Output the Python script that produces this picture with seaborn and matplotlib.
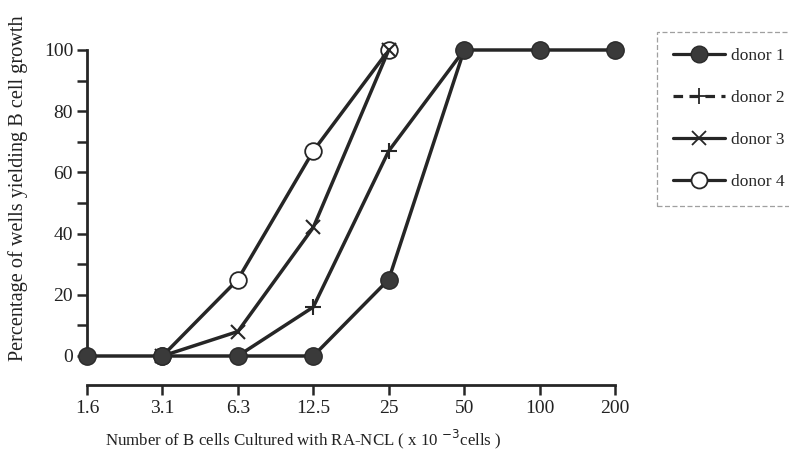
import numpy as np
import pandas as pd
import matplotlib
matplotlib.use("Agg")
import matplotlib.pyplot as plt
import seaborn as sns
from matplotlib.lines import Line2D

sns.set_style("ticks")
plt.rcParams['font.family'] = ['Liberation Serif', 'DejaVu Serif']

# data
cells = ["1.6", "3.1", "6.3", "12.5", "25", "50", "100", "200"]
donor1 = [0, 0, 0, 0, 25, 100, 100, 100]
donor2 = [np.nan, np.nan, 0, 16, 67, 100, np.nan, np.nan]
donor3 = [np.nan, 0, 8, 42, 100, np.nan, np.nan, np.nan]
donor4 = [np.nan, 0, 25, 67, 100, np.nan, np.nan, np.nan]

ink = "#262626"
pos = np.arange(len(cells))

fig = plt.figure(figsize=(7.89, 4.58), dpi=100)
ax = fig.add_axes([87/789, 1 - 356/458, (615 - 87)/789, (356 - 50)/458])

# draw order: donor 4 first so the x of donor 3 sits on the open circle, donor 1 on top
styles = [
    ("donor 4", donor4, dict(marker="o", markerfacecolor="white", markeredgecolor=ink,
                             markeredgewidth=1.3, markersize=12)),
    ("donor 3", donor3, dict(marker="x", markeredgecolor=ink, markeredgewidth=1.5, markersize=10.5)),
    ("donor 2", donor2, dict(marker="+", markeredgecolor=ink, markeredgewidth=1.5, markersize=12)),
    ("donor 1", donor1, dict(marker="o", markerfacecolor="#3a3a3a", markeredgecolor="#2a2a2a",
                             markeredgewidth=1.0, markersize=12.5)),
]
for i, (name, vals, mk) in enumerate(styles):
    d = pd.DataFrame({"x": pos, "y": vals}).dropna()
    sns.lineplot(data=d, x="x", y="y", ax=ax, color=ink, linewidth=2.5,
                 clip_on=False, zorder=3 + i, **mk)

ax.set_xlim(0, 7)
ax.set_ylim(0, 100)
ax.set_xticks(pos)
ax.set_xticklabels(cells)
ax.set_yticks([0, 20, 40, 60, 80, 100])
ax.set_yticks([10, 30, 50, 70, 90], minor=True)
ax.tick_params(axis="both", which="both", direction="out", length=7, width=1.8,
               color=ink, labelsize=14, labelcolor="#222222")
ax.tick_params(axis="y", pad=3)
ax.tick_params(axis="x", pad=4)

sns.despine(ax=ax)
ax.spines["bottom"].set_position(("outward", 21))
for s in ("left", "bottom"):
    ax.spines[s].set_linewidth(2.0)
    ax.spines[s].set_color(ink)

ax.set_xlabel("Number of B cells Cultured with RA-NCL ( x 10 $^{-3}$cells )",
              fontsize=12.2, color="#222222")
ax.xaxis.set_label_coords((303 - 87) / 528, -(428 - 356) / 306)
ax.set_ylabel("Percentage of wells yielding B cell growth", fontsize=14.6,
              color="#222222")
ax.yaxis.set_label_coords(-(87 - 28) / 528, (356 - 188) / 306)

handles = [
    Line2D([], [], color=ink, lw=2.3, marker="o", markerfacecolor="#3a3a3a",
           markeredgecolor="#2a2a2a", markersize=12),
    Line2D([], [], color=ink, lw=2.3, ls=(0, (3, 2)), marker="+", markeredgecolor=ink,
           markeredgewidth=1.3, markersize=12),
    Line2D([], [], color=ink, lw=2.3, marker="x", markeredgecolor=ink,
           markeredgewidth=1.3, markersize=10),
    Line2D([], [], color=ink, lw=2.3, marker="o", markerfacecolor="white",
           markeredgecolor=ink, markeredgewidth=1.3, markersize=11.5),
]
leg = fig.legend(handles, ["donor 1", "donor 2", "donor 3", "donor 4"],
                 loc="upper left", bbox_to_anchor=(657/789, 1 - 32/458),
                 fontsize=12.5, frameon=True, fancybox=False, handlelength=3.0,
                 labelspacing=1.5, borderpad=0.9, handletextpad=0.35,
                 borderaxespad=0)
leg.get_frame().set_edgecolor("#888888")
leg.get_frame().set_linestyle((0, (4, 2)))
leg.get_frame().set_linewidth(0.9)

fig.savefig("out.png", dpi=100)
